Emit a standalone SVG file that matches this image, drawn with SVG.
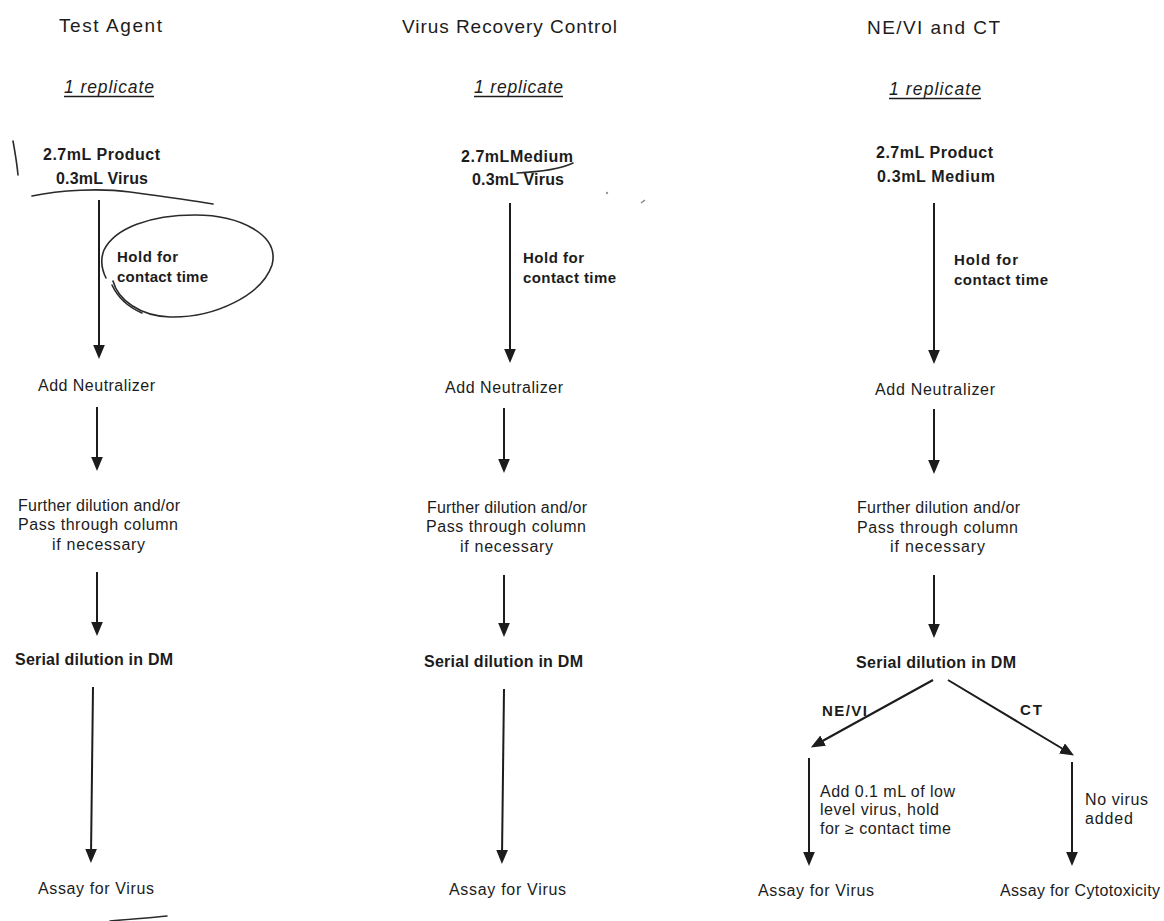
<svg xmlns="http://www.w3.org/2000/svg" width="1164" height="921" viewBox="0 0 1164 921">
<defs>
<marker id="ah" markerUnits="userSpaceOnUse" markerWidth="14" markerHeight="12" viewBox="0 0 12 10" refX="6" refY="5" orient="auto">
<path d="M0,0 L12,5 L0,10 z" fill="#1c1c1c"/>
</marker>
<style>
text{font-family:"Liberation Sans",Arial,sans-serif;fill:#1c1c1c;font-size:16px}
.t{font-size:19px}
.b{font-weight:bold}
.i{font-style:italic;font-size:17.5px}
.h{font-weight:bold;font-size:15px}
.c{stroke:#1c1c1c;stroke-width:2;fill:none;marker-end:url(#ah)}
.u{stroke:#1c1c1c;stroke-width:1.3}
.hw{stroke:#2a2a2a;stroke-width:1.6;fill:none;stroke-linecap:round}
</style>
</defs>
<rect width="1164" height="921" fill="#fff"/>

<g id="connectors">
<line class="c" x1="99" y1="200" x2="99" y2="352"/>
<line class="c" x1="97" y1="407" x2="97" y2="464"/>
<line class="c" x1="97" y1="572" x2="97" y2="629"/>
<line class="c" x1="93" y1="687" x2="91" y2="856"/>
<line class="c" x1="510" y1="203" x2="510" y2="356"/>
<line class="c" x1="504" y1="408" x2="504" y2="466"/>
<line class="c" x1="504" y1="575" x2="504" y2="630"/>
<line class="c" x1="504" y1="689" x2="502" y2="857"/>
<line class="c" x1="934" y1="203" x2="934" y2="357"/>
<line class="c" x1="934" y1="409" x2="934" y2="467"/>
<line class="c" x1="934" y1="575" x2="934" y2="631"/>
<line class="c" x1="933" y1="680" x2="817" y2="744"/>
<line class="c" x1="948" y1="680" x2="1068" y2="752"/>
<line class="c" x1="809" y1="758" x2="809" y2="859"/>
<line class="c" x1="1072" y1="762" x2="1072" y2="859"/>
</g>

<g id="col1-title"><text class="t" x="59" y="32" textLength="103">Test Agent</text></g>
<g id="col1-rep"><text class="i" x="64" y="93" textLength="90">1 replicate</text><line class="u" x1="64" y1="96.5" x2="154" y2="96.5"/></g>
<g id="col1-mix"><text class="b" x="43" y="160" textLength="117">2.7mL Product</text><text class="b" x="56" y="184" textLength="92">0.3mL Virus</text></g>
<g id="col1-hold"><text class="h" x="117" y="262" textLength="61">Hold for</text><text class="h" x="117" y="282" textLength="91">contact time</text></g>
<g id="col1-neut"><text x="38" y="391" textLength="117">Add Neutralizer</text></g>
<g id="col1-further"><text x="18" y="511" textLength="162">Further dilution and/or</text><text x="18" y="530" textLength="160">Pass through column</text><text x="52" y="550" textLength="93">if necessary</text></g>
<g id="col1-serial"><text class="b" x="15" y="665" textLength="158">Serial dilution in DM</text></g>
<g id="col1-assay"><text x="38" y="894" textLength="116">Assay for Virus</text></g>

<g id="col2-title"><text class="t" x="402" y="33" textLength="215">Virus Recovery Control</text></g>
<g id="col2-rep"><text class="i" x="474" y="93" textLength="89">1 replicate</text><line class="u" x1="474" y1="96.5" x2="563" y2="96.5"/></g>
<g id="col2-mix"><text class="b" x="461" y="162" textLength="112">2.7mLMedium</text><text class="b" x="472" y="185" textLength="92">0.3mL Virus</text></g>
<g id="col2-hold"><text class="h" x="523" y="263" textLength="61">Hold for</text><text class="h" x="523" y="283" textLength="93">contact time</text></g>
<g id="col2-neut"><text x="445" y="393" textLength="118">Add Neutralizer</text></g>
<g id="col2-further"><text x="427" y="513" textLength="160">Further dilution and/or</text><text x="426" y="532" textLength="160">Pass through column</text><text x="460" y="552" textLength="93">if necessary</text></g>
<g id="col2-serial"><text class="b" x="424" y="667" textLength="159">Serial dilution in DM</text></g>
<g id="col2-assay"><text x="449" y="895" textLength="117">Assay for Virus</text></g>

<g id="col3-title"><text class="t" x="867" y="34" textLength="133">NE/VI and CT</text></g>
<g id="col3-rep"><text class="i" x="889" y="95" textLength="92">1 replicate</text><line class="u" x1="889" y1="98.5" x2="981" y2="98.5"/></g>
<g id="col3-mix"><text class="b" x="876" y="158" textLength="117">2.7mL Product</text><text class="b" x="877" y="182" textLength="118">0.3mL Medium</text></g>
<g id="col3-hold"><text class="h" x="954" y="265" textLength="64">Hold for</text><text class="h" x="954" y="285" textLength="94">contact time</text></g>
<g id="col3-neut"><text x="875" y="395" textLength="120">Add Neutralizer</text></g>
<g id="col3-further"><text x="857" y="513" textLength="163">Further dilution and/or</text><text x="857" y="533" textLength="161">Pass through column</text><text x="890" y="552" textLength="95">if necessary</text></g>
<g id="col3-serial"><text class="b" x="856" y="668" textLength="160">Serial dilution in DM</text></g>
<g id="col3-nevi"><text class="h" x="822" y="716" textLength="45">NE/VI</text></g>
<g id="col3-ct"><text class="h" x="1020" y="715" textLength="22">CT</text></g>
<g id="col3-add"><text x="820" y="797" textLength="135">Add 0.1 mL of low</text><text x="820" y="815" textLength="119">level virus, hold</text><text x="820" y="834" textLength="131">for ≥ contact time</text></g>
<g id="col3-novirus"><text x="1085" y="805" textLength="63">No virus</text><text x="1085" y="824" textLength="48">added</text></g>
<g id="col3-assay-virus"><text x="758" y="896" textLength="116">Assay for Virus</text></g>
<g id="col3-assay-cyto"><text x="1000" y="896" textLength="160">Assay for Cytotoxicity</text></g>

<g id="handwriting">
<path class="hw" d="M13,141 C15,152 17,164 18,175"/>
<path class="hw" d="M32,196 C60,190 100,188 130,192 C160,196 190,200 213,204"/>
<path class="hw" d="M113,281 C118,300 140,316 170,317 C215,318 262,295 272,265 C280,235 240,215 195,215 C150,215 115,228 104,250 C100,260 102,270 106,278"/>
<path class="hw" d="M112,285 C118,298 128,307 142,313"/>
<path class="hw" d="M517,173 C538,172 558,170 573,163"/>
<path class="hw" stroke-width="2" d="M110,921 C130,919 150,918 167,916"/>
<circle cx="607" cy="193" r="1.2" fill="#999"/>
<path d="M641,203 L645,200" stroke="#888" stroke-width="1.5" fill="none"/>
</g>
</svg>
